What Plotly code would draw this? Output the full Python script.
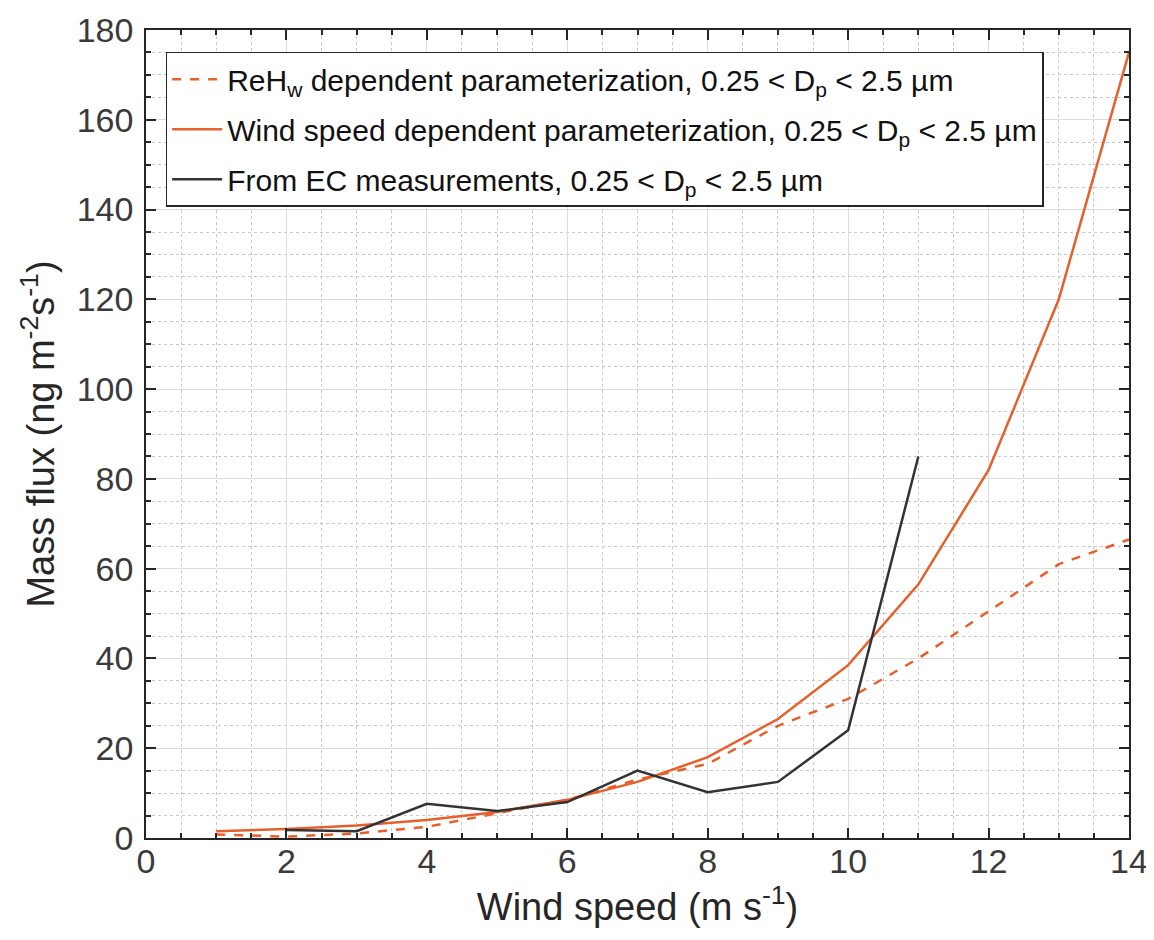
"""Mass flux vs wind speed, parameterizations and EC measurements."""
import plotly.graph_objects as go

wind_speed = [1, 2, 3, 4, 5, 6, 7, 8, 9, 10, 11, 12, 13, 14]
reh_flux = [0.8, 0.3, 1.0, 2.5, 5.5, 8.5, 13.0, 16.5, 25.0, 31.0, 40.0, 50.5, 61.0, 66.5]
ws_flux = [1.5, 2.0, 2.8, 4.0, 5.8, 8.5, 12.5, 18.0, 26.5, 38.5, 56.5, 82.0, 120.0, 175.0]

ec_wind_speed = [2, 3, 4, 5, 6, 7, 8, 9, 10, 11]
ec_flux = [1.8, 1.5, 7.6, 6.0, 8.0, 15.0, 10.2, 12.5, 24.0, 85.0]

x_ticks = [0, 2, 4, 6, 8, 10, 12, 14]
y_ticks = [0, 20, 40, 60, 80, 100, 120, 140, 160, 180]

ORANGE = '#E5602B'
DARK = '#333333'
TEXT = '#262626'

fig = go.Figure()

# separate legend groups so tracegroupgap spaces the rows out
fig.add_trace(go.Scatter(
    x=wind_speed, y=reh_flux, mode='lines', legendgroup='a',
    name='ReH<sub>w</sub> dependent parameterization, 0.25 < D<sub>p</sub> < 2.5 µm',
    line=dict(color=ORANGE, width=2.5, dash='dash')
))
fig.add_trace(go.Scatter(
    x=wind_speed, y=ws_flux, mode='lines', legendgroup='b',
    name='Wind speed dependent parameterization, 0.25 < D<sub>p</sub> < 2.5 µm',
    line=dict(color=ORANGE, width=2.5)
))
fig.add_trace(go.Scatter(
    x=ec_wind_speed, y=ec_flux, mode='lines', legendgroup='c',
    name='From EC measurements, 0.25 < D<sub>p</sub> < 2.5 µm',
    line=dict(color=DARK, width=2.5)
))

axis_common = dict(
    showline=True, linecolor=TEXT, linewidth=1.5, mirror='ticks',
    ticks='inside', ticklen=10, tickwidth=1.5, tickcolor=TEXT,
    showgrid=True, gridcolor='#dcdcdc', gridwidth=1,
    zeroline=False, automargin=False,
    tickfont=dict(size=34, color='#3a3a3a'),
)

# page body has an 8px default margin, so the margins are shifted by that
fig.update_layout(
    width=1154, height=940,
    margin=dict(l=138, r=33, t=22, b=110),
    paper_bgcolor='white', plot_bgcolor='white',
    font=dict(family='Liberation Sans, Arial, sans-serif', color=TEXT),
    xaxis=dict(
        range=[0, 14], tickvals=x_ticks, ticklabelstandoff=-8,
        title=dict(text='Wind speed (m s<sup>-1</sup>)', font=dict(size=38), standoff=2),
        minor=dict(dtick=0.5, showgrid=True, gridcolor='#c8c8c8', griddash='dot',
                   ticks='inside', ticklen=5, tickcolor=TEXT),
        **axis_common
    ),
    yaxis=dict(
        range=[0, 180], tickvals=y_ticks, ticklabelstandoff=4,
        title=dict(text='Mass flux (ng m<sup>-2</sup>s<sup>-1</sup>)', font=dict(size=38), standoff=10),
        minor=dict(dtick=5, showgrid=True, gridcolor='#c8c8c8', griddash='dot',
                   ticks='inside', ticklen=5, tickcolor=TEXT),
        **axis_common
    ),
    legend=dict(
        x=0.02, y=0.973, xanchor='left', yanchor='top',
        bgcolor='white', bordercolor=TEXT, borderwidth=1.5,
        font=dict(size=30, color='#111111'),
        itemwidth=50, tracegroupgap=8,
    ),
    showlegend=True,
)

fig.write_html("out.html")
